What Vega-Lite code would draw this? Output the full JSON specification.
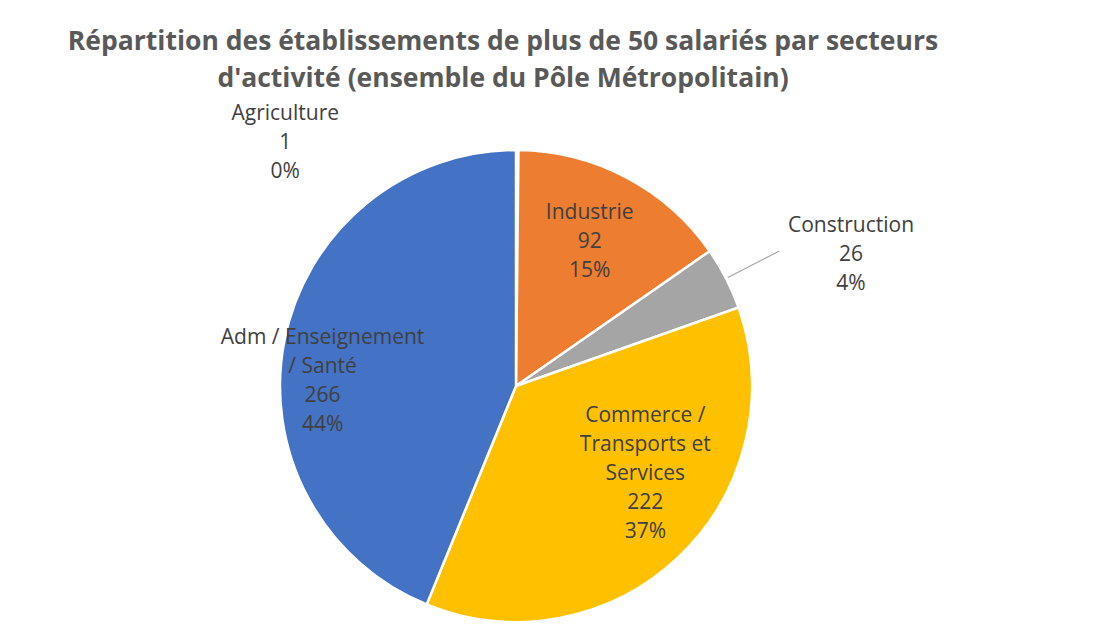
{
  "$schema": "https://vega.github.io/schema/vega-lite/v6.json",
  "width": 472,
  "height": 472,
  "autosize": {"type": "none"},
  "padding": {"left": 280, "top": 150, "right": 362, "bottom": 3},
  "background": "white",
  "config": {"view": {"stroke": null}},
  "title": {
    "text": ["Répartition des établissements de plus de 50 salariés par secteurs", "d'activité (ensemble du Pôle Métropolitain)"],
    "font": "Open Sans",
    "fontSize": 26.5,
    "fontWeight": "bold",
    "color": "#595959",
    "anchor": "middle",
    "frame": "group",
    "dx": -13,
    "offset": -5,
    "lineHeight": 37
  },
  "data": {
    "values": [
      {"categorie": "Agriculture", "valeur": 1, "rang": 1, "label": "Agriculture\n1\n0%"},
      {"categorie": "Industrie", "valeur": 92, "rang": 2, "label": "Industrie\n92\n15%"},
      {"categorie": "Construction", "valeur": 26, "rang": 3, "label": "Construction\n26\n4%"},
      {"categorie": "Commerce / Transports et Services", "valeur": 222, "rang": 4, "label": "Commerce /\nTransports et\nServices\n222\n37%"},
      {"categorie": "Adm / Enseignement / Santé", "valeur": 266, "rang": 5, "label": "Adm / Enseignement\n/ Santé\n266\n44%"}
    ]
  },
  "encoding": {
    "theta": {"field": "valeur", "type": "quantitative", "stack": true},
    "order": {"field": "rang", "type": "quantitative"}
  },
  "layer": [
    {
      "mark": {"type": "arc", "stroke": "white", "strokeWidth": 2.5},
      "encoding": {
        "color": {
          "field": "categorie",
          "type": "nominal",
          "scale": {
            "domain": ["Agriculture", "Industrie", "Construction", "Commerce / Transports et Services", "Adm / Enseignement / Santé"],
            "range": ["#5B9BD5", "#ED7D31", "#A5A5A5", "#FFC000", "#4472C4"]
          },
          "legend": null
        }
      }
    },
    {
      "mark": {"type": "arc", "radius": 296, "radius2": 238, "padAngle": 1, "fillOpacity": 0, "stroke": "#a6a6a6", "strokeWidth": 1.2},
      "encoding": {
        "strokeOpacity": {"condition": {"test": "datum.categorie === 'Construction'", "value": 1}, "value": 0}
      }
    },
    {
      "mark": {"type": "text", "radius": 164, "dx": -3, "dy": -28, "font": "Open Sans", "fontSize": 21, "color": "#404040", "lineBreak": "\n", "lineHeight": 29, "align": "center", "baseline": "middle"},
      "encoding": {"text": {"condition": {"test": "datum.categorie === 'Industrie'", "field": "label"}, "value": ""}}
    },
    {
      "mark": {"type": "text", "radius": 160, "dx": 19, "dy": -86, "font": "Open Sans", "fontSize": 21, "color": "#404040", "lineBreak": "\n", "lineHeight": 29, "align": "center", "baseline": "middle"},
      "encoding": {"text": {"condition": {"test": "datum.categorie === 'Commerce / Transports et Services'", "field": "label"}, "value": ""}}
    },
    {
      "mark": {"type": "text", "radius": 190, "dx": -7, "dy": -11, "font": "Open Sans", "fontSize": 21, "color": "#404040", "lineBreak": "\n", "lineHeight": 29, "align": "center", "baseline": "middle"},
      "encoding": {"text": {"condition": {"test": "datum.categorie === 'Adm / Enseignement / Santé'", "field": "label"}, "value": ""}}
    },
    {
      "mark": {"type": "text", "radius": 236, "dx": 125, "dy": -52, "font": "Open Sans", "fontSize": 21, "color": "#404040", "lineBreak": "\n", "lineHeight": 29, "align": "center", "baseline": "middle"},
      "encoding": {"text": {"condition": {"test": "datum.categorie === 'Construction'", "field": "label"}, "value": ""}}
    },
    {
      "mark": {"type": "text", "radius": 243, "dx": -232, "dy": -29, "font": "Open Sans", "fontSize": 21, "color": "#404040", "lineBreak": "\n", "lineHeight": 29, "align": "center", "baseline": "middle"},
      "encoding": {"text": {"condition": {"test": "datum.categorie === 'Agriculture'", "field": "label"}, "value": ""}}
    }
  ]
}
